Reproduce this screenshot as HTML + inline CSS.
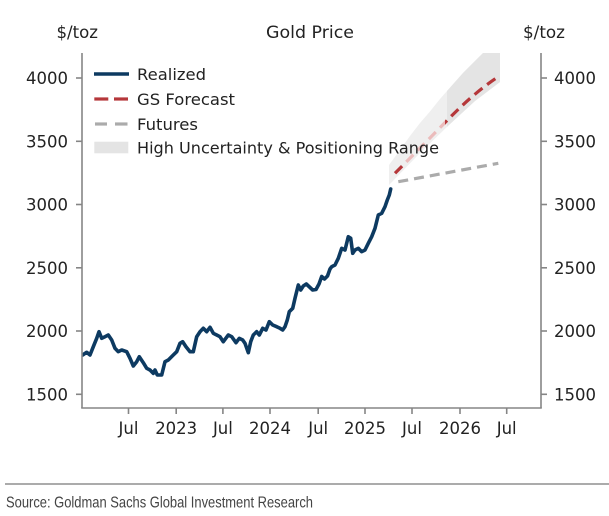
<!DOCTYPE html>
<html>
<head>
<meta charset="utf-8">
<style>
  html, body { margin: 0; padding: 0; background: #ffffff; }
  svg { display: block; }
  .t { font-family: "DejaVu Sans", "Liberation Sans", sans-serif; fill: #222; }
</style>
</head>
<body>
<svg width="609" height="516" viewBox="0 0 609 516" xmlns="http://www.w3.org/2000/svg">
  <defs>
    <clipPath id="plot"><rect x="82" y="53" width="459" height="355"/></clipPath>
    <clipPath id="dark"><rect x="447" y="40" width="60" height="200"/></clipPath>
    <clipPath id="redA"><rect x="380" y="40" width="25" height="200"/><rect x="445" y="40" width="70" height="200"/></clipPath>
    <clipPath id="redB"><rect x="405" y="40" width="40" height="200"/></clipPath>
  </defs>

  <!-- Titles -->
  <text class="t" x="56.5" y="38" font-size="16.5" textLength="41.5" lengthAdjust="spacingAndGlyphs">$/toz</text>
  <text class="t" x="266" y="38" font-size="16.5" textLength="88" lengthAdjust="spacingAndGlyphs">Gold Price</text>
  <text class="t" x="523" y="38" font-size="16.5" textLength="42" lengthAdjust="spacingAndGlyphs">$/toz</text>

  <!-- Shaded uncertainty range -->
  <g clip-path="url(#plot)">
    <polygon fill="#efefef" points="389,185 389,165 400,150 410,136 420,123 430,111.5 440,99 447,91 455,82 463,73 472,64 480,56 483,53 500,53 500,82 475,101 450,124 420,153"/>
    <polygon fill="#e4e4e4" clip-path="url(#dark)" points="389,185 389,165 400,150 410,136 420,123 430,111.5 440,99 447,91 455,82 463,73 472,64 480,56 483,53 500,53 500,82 475,101 450,124 420,153"/>

    <!-- Futures -->
    <line x1="398.3" y1="181.7" x2="498.3" y2="163.3" stroke="#ababab" stroke-width="3.2" stroke-dasharray="10,6"/>

    <!-- GS forecast -->
    <path d="M395,173.3 Q425,143 450,117.5 T498.3,76.7" fill="none" stroke="#b5373a" stroke-width="3.2" stroke-dasharray="10,6" clip-path="url(#redA)"/>
    <path d="M395,173.3 Q425,143 450,117.5 T498.3,76.7" fill="none" stroke="#ebbcbc" stroke-width="3.2" stroke-dasharray="10,6" clip-path="url(#redB)"/>

    <!-- Realized -->
    <polyline fill="none" stroke="#0d3a61" stroke-width="3.6" stroke-linejoin="round" stroke-linecap="round" points="
82.7,355 86.7,352.3 90,355 93.3,346.7 96.7,338.3 99,331.7 101.7,338.3 105,336.7 108.3,335 111.7,340
115,348.3 118.3,351.7 121.7,350 126.7,351.7 130,358.3 133.3,366 136.7,361.7 139.3,356.7 143.3,362.7 146.7,368.3
150,370 153.3,373.3 155,370 157.3,375 161.7,375 165,361.7 168.3,360 173.3,355 176.7,351.7 180,343.3
182.7,341.7 186,346.7 190,351.7 193.3,351.7 196.7,336.7 200,331.7 203.3,328.3 206.7,331.7 210,327.3 213.3,333.3
216.7,335 220,336.7 223.3,341.7 228.3,335 231.7,336.7 236,342.7 239.3,338.3 242.7,340 245,343.3 248.3,352.7
250.7,341.7 253.3,335 256.7,331.7 259.3,335 262.7,328.3 266,330 269.3,321.7 272.7,325 276.7,326.7 280,328.3
282.7,330 285,326.7 287.3,320 289.3,311.7 292.7,308.3 295,298.3 298.3,285 300.7,290 303.3,286 306.3,284
309.5,287 312.7,290 316,289.5 319,284 321.7,276.5 324.5,279 327.5,276 330,269 331.7,266.7 335,265
338.3,258.3 341.7,248.3 345,250 348.3,236.7 350.7,238.3 352.7,253.3 355,250 358.3,248.3 361.7,251.7 365,250
368.3,243.3 371.7,236.7 375,228.3 378.3,215 381.7,213.3 385,206.7 387.3,200 389.3,195 390.7,189"/>
  </g>

  <!-- Spines -->
  <g stroke="#858585" stroke-width="1.6" fill="none">
    <line x1="82" y1="53" x2="82" y2="408"/>
    <line x1="541" y1="53" x2="541" y2="408"/>
    <line x1="81.2" y1="408" x2="541.8" y2="408"/>
    <line x1="76" y1="78" x2="82" y2="78"/>
    <line x1="76" y1="141.3" x2="82" y2="141.3"/>
    <line x1="76" y1="204.5" x2="82" y2="204.5"/>
    <line x1="76" y1="267.8" x2="82" y2="267.8"/>
    <line x1="76" y1="331" x2="82" y2="331"/>
    <line x1="76" y1="394.3" x2="82" y2="394.3"/>
    <line x1="541" y1="78" x2="547" y2="78"/>
    <line x1="541" y1="141.3" x2="547" y2="141.3"/>
    <line x1="541" y1="204.5" x2="547" y2="204.5"/>
    <line x1="541" y1="267.8" x2="547" y2="267.8"/>
    <line x1="541" y1="331" x2="547" y2="331"/>
    <line x1="541" y1="394.3" x2="547" y2="394.3"/>
    <line x1="128.5" y1="408" x2="128.5" y2="414"/>
    <line x1="176.2" y1="408" x2="176.2" y2="414"/>
    <line x1="222.9" y1="408" x2="222.9" y2="414"/>
    <line x1="270" y1="408" x2="270" y2="414"/>
    <line x1="318.2" y1="408" x2="318.2" y2="414"/>
    <line x1="365" y1="408" x2="365" y2="414"/>
    <line x1="412" y1="408" x2="412" y2="414"/>
    <line x1="460" y1="408" x2="460" y2="414"/>
    <line x1="506.7" y1="408" x2="506.7" y2="414"/>
  </g>

  <!-- Left y labels -->
  <g class="t" font-size="16.5" text-anchor="end">
    <text x="68" y="84">4000</text>
    <text x="68" y="147.3">3500</text>
    <text x="68" y="210.5">3000</text>
    <text x="68" y="273.8">2500</text>
    <text x="68" y="337">2000</text>
    <text x="68" y="400.3">1500</text>
  </g>
  <!-- Right y labels -->
  <g class="t" font-size="16.5" text-anchor="start">
    <text x="554" y="84">4000</text>
    <text x="554" y="147.3">3500</text>
    <text x="554" y="210.5">3000</text>
    <text x="554" y="273.8">2500</text>
    <text x="554" y="337">2000</text>
    <text x="554" y="400.3">1500</text>
  </g>
  <!-- X labels -->
  <g class="t" font-size="16.5" text-anchor="middle">
    <text x="128.5" y="434">Jul</text>
    <text x="176.2" y="434">2023</text>
    <text x="222.9" y="434">Jul</text>
    <text x="270" y="434">2024</text>
    <text x="318.2" y="434">Jul</text>
    <text x="365" y="434">2025</text>
    <text x="412" y="434">Jul</text>
    <text x="460" y="434">2026</text>
    <text x="506.7" y="434">Jul</text>
  </g>

  <!-- Legend -->
  <line x1="94" y1="74" x2="129" y2="74" stroke="#0d3a61" stroke-width="3.4"/>
  <line x1="94.3" y1="99" x2="108.3" y2="99" stroke="#b5373a" stroke-width="3.2"/>
  <line x1="114" y1="99" x2="128" y2="99" stroke="#b5373a" stroke-width="3.2"/>
  <line x1="95" y1="124" x2="107" y2="124" stroke="#ababab" stroke-width="3.2"/>
  <line x1="115" y1="124" x2="127.5" y2="124" stroke="#ababab" stroke-width="3.2"/>
  <rect x="94.3" y="141.7" width="34" height="11.6" fill="#e4e4e4"/>
  <g class="t" font-size="16">
    <text x="137" y="80" textLength="69" lengthAdjust="spacingAndGlyphs">Realized</text>
    <text x="137" y="105" textLength="98" lengthAdjust="spacingAndGlyphs">GS Forecast</text>
    <text x="137" y="130" textLength="61" lengthAdjust="spacingAndGlyphs">Futures</text>
    <text x="137" y="153.5" textLength="302" lengthAdjust="spacingAndGlyphs">High Uncertainty &amp; Positioning Range</text>
  </g>

  <!-- Footer -->
  <line x1="5" y1="484" x2="609" y2="484" stroke="#ababab" stroke-width="2"/>
  <text x="6" y="507.5" font-family="'Liberation Sans Narrow', 'Liberation Sans', sans-serif" font-size="16" fill="#444" textLength="307" lengthAdjust="spacingAndGlyphs">Source: Goldman Sachs Global Investment Research</text>
</svg>
</body>
</html>
